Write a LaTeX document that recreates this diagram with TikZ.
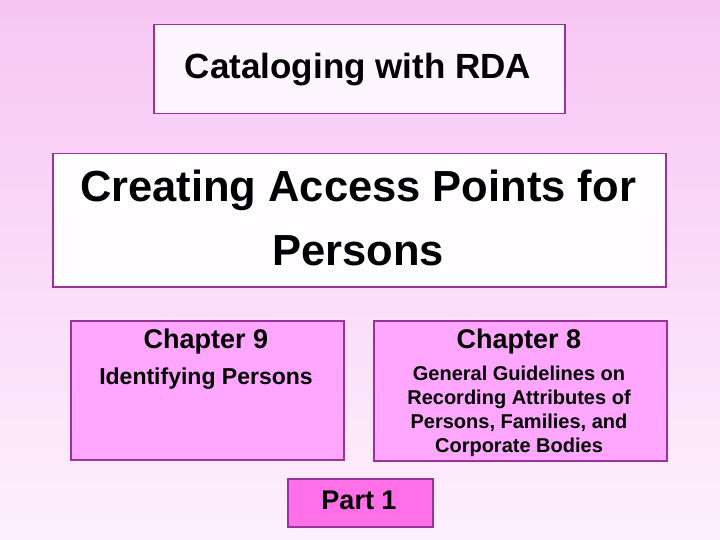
\documentclass[tikz,border=0pt]{standalone}
\usepackage{fontspec}
\setmainfont{Liberation Sans}
\definecolor{bord}{HTML}{993399}
\definecolor{topbg}{HTML}{F7C6F4}
\definecolor{botbg}{HTML}{FDF0FD}
\definecolor{boxa}{HTML}{FFA6FF}
\definecolor{partc}{HTML}{FF6FE8}
\begin{document}
\begin{tikzpicture}[x=1pt,y=-1pt,
  bx/.style={draw=bord,line width=1.5pt,inner sep=0pt,anchor=north west}]
\shade[top color=topbg,bottom color=botbg] (0,0) rectangle (720,540);
\useasboundingbox (0,0) rectangle (720,540);
\node[bx,fill=botbg!60!white,minimum width=411pt,minimum height=89pt] (t1) at (153,24) {};
\node[font=\bfseries\fontsize{35}{40}\selectfont] (t1t) at (358,70) {Cataloging with RDA};
\node[bx,fill=white!85!botbg,minimum width=613pt,minimum height=133pt] (t2) at (52,153) {};
\node[font=\bfseries\fontsize{43.5}{64}\selectfont,align=center] (t2t) at (358,218) {Creating Access Points for\\Persons};
\node[bx,fill=boxa,minimum width=273pt,minimum height=139pt] (c9) at (70,320) {};
\node[font=\bfseries\fontsize{27}{30}\selectfont] (c9a) at (206,342) {Chapter 9};
\node[font=\bfseries\fontsize{23}{26}\selectfont] (c9b) at (206,379) {Identifying Persons};
\node[bx,fill=boxa,minimum width=293pt,minimum height=140pt] (c8) at (373,320) {};
\node[font=\bfseries\fontsize{27}{30}\selectfont] (c8a) at (519,342) {Chapter 8};
\node[font=\bfseries\fontsize{20}{24}\selectfont,align=center] (c8b) at (519,411) {General Guidelines on\\Recording Attributes of\\Persons, Families, and\\Corporate Bodies};
\node[bx,fill=partc,minimum width=145pt,minimum height=48pt] (p1) at (287,478) {};
\node[font=\bfseries\fontsize{27}{30}\selectfont] (p1t) at (359,500) {Part 1};
\end{tikzpicture}
\end{document}
